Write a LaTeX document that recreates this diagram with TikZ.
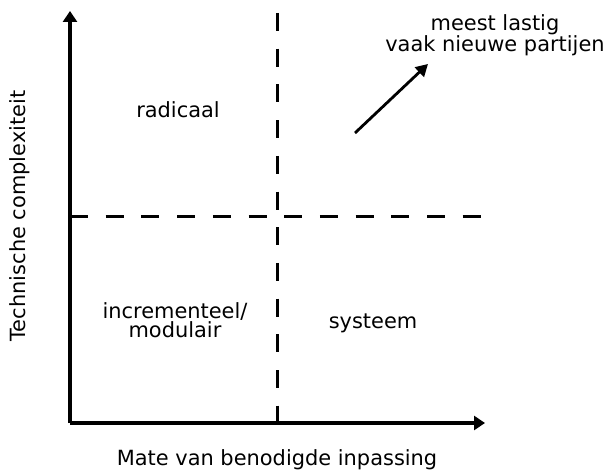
\documentclass[tikz,border=0pt]{standalone}
\usepackage{fontspec}
\setmainfont{DejaVu Sans}
\usetikzlibrary{arrows.meta}
\begin{document}
\begin{tikzpicture}[x=1bp,y=-1bp,
  axis/.style={line width=3.2bp,-{Triangle[length=11bp,width=14bp]}},
  dashline/.style={line width=3bp,dash pattern=on 18bp off 17.7bp},
  lbl/.style={font=\fontsize{21}{19}\selectfont,inner sep=0pt,anchor=base,align=center}]
\useasboundingbox (0,0) rectangle (608,470);
\coordinate (O) at (70,423);
\coordinate (ytip) at (70,11);
\coordinate (xtip) at (485,423);
\coordinate (vtop) at (277,13);
\coordinate (vbot) at (277,423);
\coordinate (hl) at (70,217);
\coordinate (hr) at (482,217);
\coordinate (as) at (355,133);
\coordinate (ae) at (428,64);
\draw[dashline] (vtop) -- (vbot);
\draw[dashline] (hl) -- (hr);
\draw[axis] (O) -- (ytip);
\draw[axis] (O) -- (xtip);
\draw[line width=2.8bp,-{Triangle[length=12bp,width=13bp]}] (as) -- (ae);
\node[lbl] (top) at (495,52) {meest lastig\\vaak nieuwe partijen};
\node[lbl] (rad) at (178,118) {radicaal};
\node[lbl] (inc) at (175,337) {incrementeel/\\modulair};
\node[lbl] (sys) at (373,328) {systeem};
\node[lbl] (xl) at (277,465) {Mate van benodigde inpassing};
\node[lbl,rotate=90] (yl) at (25,216) {Technische complexiteit};
\end{tikzpicture}
\end{document}
